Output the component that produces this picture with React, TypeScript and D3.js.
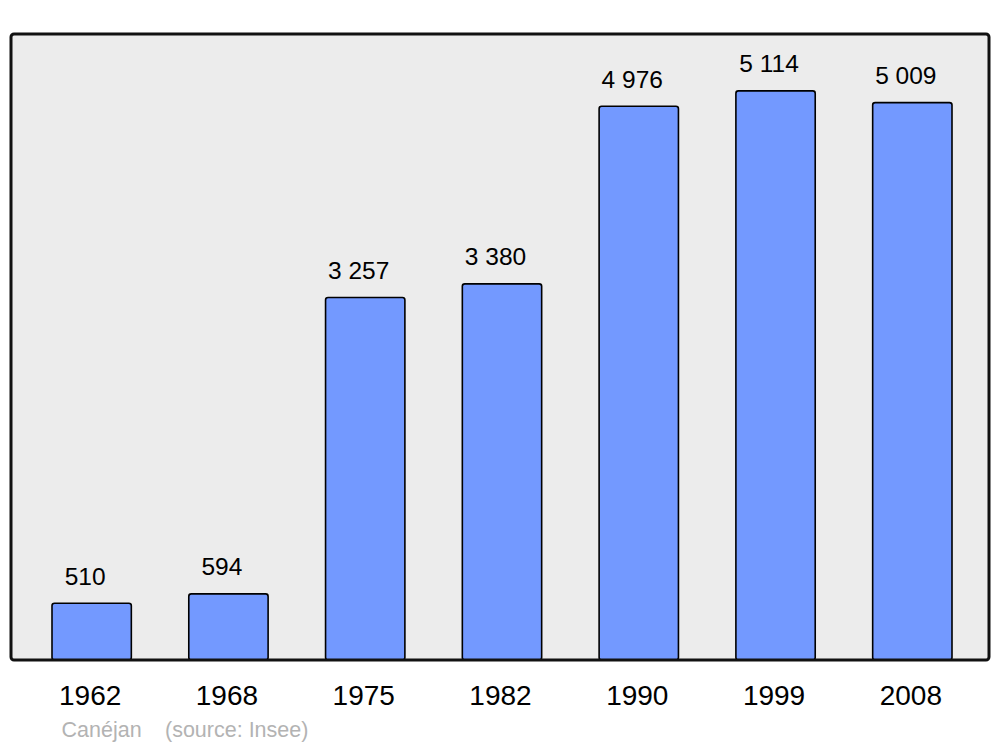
import React from "react";
import * as d3 from "d3";

const years = ["1962", "1968", "1975", "1982", "1990", "1999", "2008"];
const populations = [510, 594, 3257, 3380, 4976, 5114, 5009];
const valueLabels = ["510", "594", "3 257", "3 380", "4 976", "5 114", "5 009"];
const townName = "Canéjan";
const sourceText = "(source: Insee)";

const W = 1000;
const H = 747;
const panel = { x0: 11, y0: 34, x1: 989, y1: 660 };

export default function App() {
  const x = d3.scaleBand<string>().domain(years).range([52, 952]).paddingInner(0.42).paddingOuter(0);
  const y = d3.scaleLinear().domain([0, 5114 * 1.1]).range([panel.y1, panel.y0]);
  const font = "'Liberation Sans', Arial, sans-serif";
  return (
    <svg width={W} height={H} style={{ position: "absolute", left: 0, top: 0 }} fontFamily={font}>
      <rect x={0} y={0} width={W} height={H} fill="#ffffff" />
      <rect
        x={panel.x0}
        y={panel.y0}
        width={panel.x1 - panel.x0}
        height={panel.y1 - panel.y0}
        rx={3}
        ry={3}
        fill="#ececec"
        stroke="none"
      />
      {years.map((yr, i) => {
        const bx = x(yr)!;
        const bw = x.bandwidth();
        const top = y(populations[i]);
        return (
          <g key={yr}>
            <rect
              x={bx}
              y={top}
              width={bw}
              height={panel.y1 - top}
              rx={2.5}
              ry={2.5}
              fill="#7399ff"
              stroke="#000"
              strokeWidth={1.6}
            />
            <text x={bx + bw / 2 - 6.5} y={top - 18.5} textAnchor="middle" fontSize={24.5} fill="#000">
              {valueLabels[i]}
            </text>
            <text x={bx + bw / 2 - 1.5} y={705} textAnchor="middle" fontSize={28} fill="#000">
              {yr}
            </text>
          </g>
        );
      })}
      <rect
        x={panel.x0}
        y={panel.y0}
        width={panel.x1 - panel.x0}
        height={panel.y1 - panel.y0}
        rx={3}
        ry={3}
        fill="none"
        stroke="#111"
        strokeWidth={3}
      />
      <text x={61.5} y={737} fontSize={21.5} fill="#b3b3b3">
        {townName}
      </text>
      <text x={165} y={737} fontSize={21.5} fill="#b3b3b3">
        {sourceText}
      </text>
    </svg>
  );
}
